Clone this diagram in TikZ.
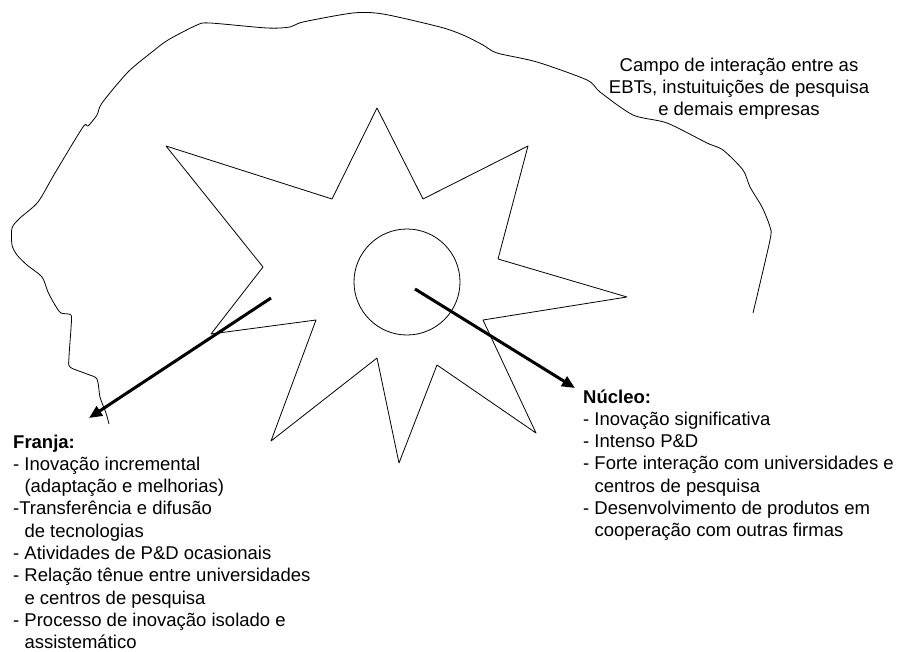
\documentclass[tikz,border=0pt]{standalone}
\usepackage{fontspec}
\setmainfont{Liberation Sans}
\usetikzlibrary{arrows.meta}
% indent of a continued list item, the width of "- "
\newcommand{\contind}{\hspace*{11.3pt}}
\begin{document}
\begin{tikzpicture}[x=1pt,y=-1pt,
  outline/.style={draw=black,line width=0.8pt,line join=round},
  pointer/.style={draw=black,line width=3pt,-{Triangle[length=13pt,width=11pt]}},
  label/.style={inner sep=0pt,font=\fontsize{18.5}{22.3}\selectfont},
  listtext/.style={label,anchor=base west}]
\useasboundingbox (0,0) rectangle (897,651);

% field of interaction: hand-drawn open contour
\draw[outline] plot[smooth,tension=0.45] coordinates {
  (109,424) (106,413) (100,397) (97,379) (87,374) (70,367) (69,357)
  (71,328) (71,315) (61,313) (55,305) (48,292) (42,277) (27,265)
  (17,255) (12,245) (12,228) (20,218) (38,202) (55,173) (83,127)
  (88,126) (97,115) (102,103) (128,72) (152,52) (168,40) (197,25)
  (210,23) (267,28) (290,27) (303,22) (353,13) (383,14) (440,27)
  (463,35) (483,45) (497,53) (537,62) (587,80) (600,92) (633,115)
  (667,123) (707,143) (723,150) (743,170) (750,187) (762,207)
  (770,227) (770,240) (753,313)};

% eight-pointed star (fringe)
\draw[outline] (166,146) -- (332,199) -- (377,108) -- (423,199)
  -- (528,146) -- (498,259) -- (627,297) -- (483,320) -- (536,433)
  -- (437,365) -- (399,463) -- (377,358) -- (271,441) -- (316,320)
  -- (211,334) -- (263,267) -- cycle;

% core
\node[outline,circle,minimum size=106pt,inner sep=0pt] (core) at (407,282) {};

% pointer anchors
\coordinate (coreStart) at (415,289);
\coordinate (fringeStart) at (271,298);
\coordinate (coreEnd) at (575,388);
\coordinate (fringeEnd) at (89,418);

\draw[pointer] (coreStart) -- (coreEnd);
\draw[pointer] (fringeStart) -- (fringeEnd);

% title caption sits on the baseline of its last line
\node[label,anchor=base,align=center] (campo) at (739,115.6)
  {Campo de interação entre as\\EBTs, instuituições de pesquisa\\e demais empresas};

% lists: top-aligned tables, placed at the baseline of their first row
\node[listtext] (franja) at (13,448)
  {\begin{tabular}[t]{@{}l@{}}
   \textbf{Franja:}\\
   - Inovação incremental\\
   \contind(adaptação e melhorias)\\
   -Transferência e difusão\\
   \contind de tecnologias\\
   - Atividades de P\&D ocasionais\\
   - Relação tênue entre universidades\\
   \contind e centros de pesquisa\\
   - Processo de inovação isolado e\\
   \contind assistemático
   \end{tabular}};

\node[listtext] (nucleo) at (583,403)
  {\begin{tabular}[t]{@{}l@{}}
   \textbf{Núcleo:}\\
   - Inovação significativa\\
   - Intenso P\&D\\
   - Forte interação com universidades e\\
   \contind centros de pesquisa\\
   - Desenvolvimento de produtos em\\
   \contind cooperação com outras firmas
   \end{tabular}};
\end{tikzpicture}
\end{document}
